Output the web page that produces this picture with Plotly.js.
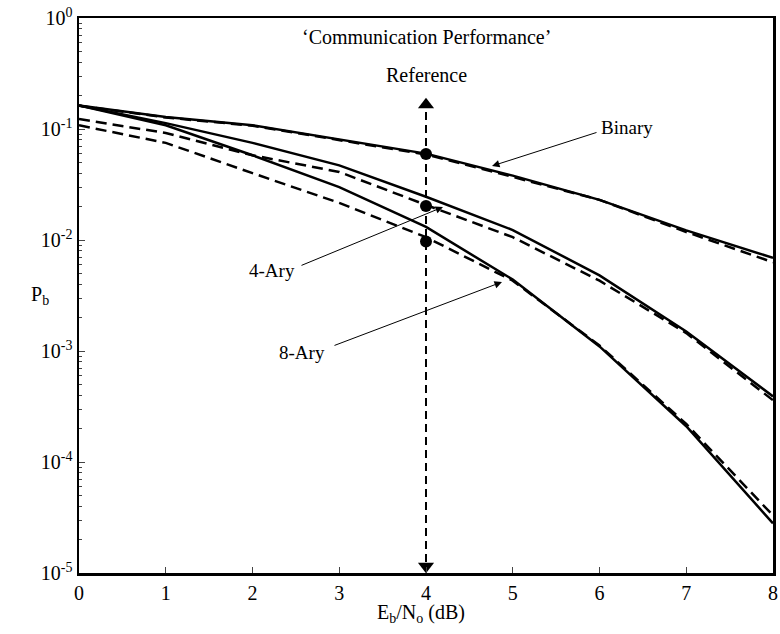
<!DOCTYPE html>
<html>
<head>
<meta charset="utf-8">
<script src="https://cdn.plot.ly/plotly-3.0.1.min.js"></script>
<style>html,body{margin:0;padding:0;background:#fff;}#chart{width:780px;height:634px;}</style>
</head>
<body>
<div id="chart"></div>
<script>
// ---- data ----
const ebno = [0, 1, 2, 3, 4, 5, 6, 7, 8];
const binarySolid  = [0.163, 0.128, 0.108, 0.081, 0.060, 0.038, 0.023, 0.0122, 0.0069];
const binaryDashed = [0.162, 0.127, 0.107, 0.080, 0.059, 0.037, 0.023, 0.0118, 0.0063];
const ary4Solid    = [0.163, 0.113, 0.075, 0.047, 0.0245, 0.0123, 0.0048, 0.0015, 0.00039];
const ary4Dashed   = [0.123, 0.092, 0.058, 0.041, 0.0207, 0.0106, 0.0043, 0.00145, 0.00036];
const ary8Solid    = [0.163, 0.108, 0.058, 0.030, 0.0131, 0.0044, 0.0011, 0.00021, 0.000028];
const ary8Dashed   = [0.108, 0.075, 0.040, 0.0216, 0.0106, 0.0043, 0.00112, 0.00022, 0.000033];
const refX = [4, 4];
const refY = [0.142, 0.0000107];
const refTopArrow = [0.165];
const refBottomArrow = [0.0000115];
const refDotsX = [4, 4, 4];
const refDotsY = [0.0596, 0.0202, 0.0097];
const yTickVals = [1, 0.1, 0.01, 0.001, 0.0001, 0.00001];
const yTickText = ['10<sup>0</sup>', '10<sup>-1</sup>', '10<sup>-2</sup>', '10<sup>-3</sup>', '10<sup>-4</sup>', '10<sup>-5</sup>'];
const xTickVals = [0, 1, 2, 3, 4, 5, 6, 7, 8];
const xTickText = ['0', '1', '2', '3', '4', '5', '6', '7', '8'];
const labels = ['Binary', '4-Ary', '8-Ary'];

// minor tick positions (2..9 x each decade)
const minorVals = [];
for (let e = -5; e < 0; e++) for (let m = 2; m <= 9; m++) minorVals.push(m * Math.pow(10, e));

const SOLID = {color: '#000', width: 2.5};
const DASH = {color: '#000', width: 2.5, dash: '11px,6px'};

const traces = [
  {x: ebno, y: binaryDashed, mode: 'lines', line: DASH},
  {x: ebno, y: ary4Dashed, mode: 'lines', line: DASH},
  {x: ebno, y: ary8Dashed, mode: 'lines', line: DASH},
  {x: ebno, y: binarySolid, mode: 'lines', line: SOLID},
  {x: ebno, y: ary4Solid, mode: 'lines', line: SOLID},
  {x: ebno, y: ary8Solid, mode: 'lines', line: SOLID},
  {x: refX, y: refY, mode: 'lines', line: {color: '#000', width: 2, dash: '8px,5px'}},
  {x: [refX[0]], y: refTopArrow, mode: 'markers', cliponaxis: false,
   marker: {symbol: 'triangle-up', size: 14, color: '#000'}},
  {x: [refX[0]], y: refBottomArrow, mode: 'markers', cliponaxis: false,
   marker: {symbol: 'triangle-down', size: 14, color: '#000'}},
  {x: refDotsX, y: refDotsY, mode: 'markers', marker: {symbol: 'circle', size: 12, color: '#000'}}
];

const F = 'Liberation Serif, Times New Roman, serif';
// plot-area pixel helpers (plot area: x 79..773, y 18..573)
const px = v => (v - 79) / 694;
const py = v => (573 - v) / 555;
const dx = v => (v - 79) / 86.75;
const dy = v => -(v - 18) / 111;
function pointer(tipX, tipY, tailX, tailY) {
  return {x: dx(tipX), y: dy(tipY), xref: 'x', yref: 'y', axref: 'x', ayref: 'y',
          ax: dx(tailX), ay: dy(tailY), text: '', showarrow: true,
          arrowhead: 2, arrowsize: 1.5, arrowwidth: 1, arrowcolor: '#000', standoff: 0};
}
function label(text, cx, cy, size) {
  return {x: px(cx), y: py(cy), xref: 'paper', yref: 'paper', xanchor: 'center', yanchor: 'middle',
          text: text, showarrow: false, font: {family: F, size: size, color: '#000'}};
}

const layout = {
  width: 780, height: 634,
  margin: {l: 79, r: 7, t: 18, b: 61},
  paper_bgcolor: '#fff', plot_bgcolor: '#fff',
  showlegend: false,
  font: {family: F, size: 20, color: '#000'},
  xaxis: {
    range: [0, 8], tickvals: xTickVals, ticktext: xTickText,
    ticks: 'inside', ticklen: 6, tickwidth: 1, tickcolor: '#444',
    showline: true, linewidth: 2.5, linecolor: '#000', mirror: true,
    showgrid: false, zeroline: false, tickfont: {family: F, size: 20, color: '#000'}
  },
  yaxis: {
    type: 'log', range: [-5, 0], tickvals: yTickVals, ticktext: yTickText,
    ticks: 'inside', ticklen: 6, tickwidth: 1, tickcolor: '#444',
    minor: {tickvals: minorVals, ticks: 'inside', ticklen: 3, tickwidth: 1, tickcolor: '#444', showgrid: false},
    showline: true, linewidth: 2.5, linecolor: '#000', mirror: true,
    showgrid: false, zeroline: false, tickfont: {family: F, size: 20, color: '#000'}
  },
  annotations: [
    label('\u2018Communication Performance\u2019', 426, 37, 20),
    label('Reference', 426, 75, 20),
    label(labels[0], 627, 127, 19),
    label(labels[1], 272, 270, 19),
    label(labels[2], 302, 352, 19),
    pointer(492, 166, 598, 132),
    pointer(443, 207, 300, 266),
    pointer(502, 282, 333, 346),
    label('E<sub>b</sub>/N<sub>o</sub> (dB)', 421, 613, 20),
    label('P<sub>b</sub>', 40, 295, 20)
  ]
};

Plotly.newPlot('chart', traces, layout, {displayModeBar: false, staticPlot: true});
</script>
</body>
</html>
